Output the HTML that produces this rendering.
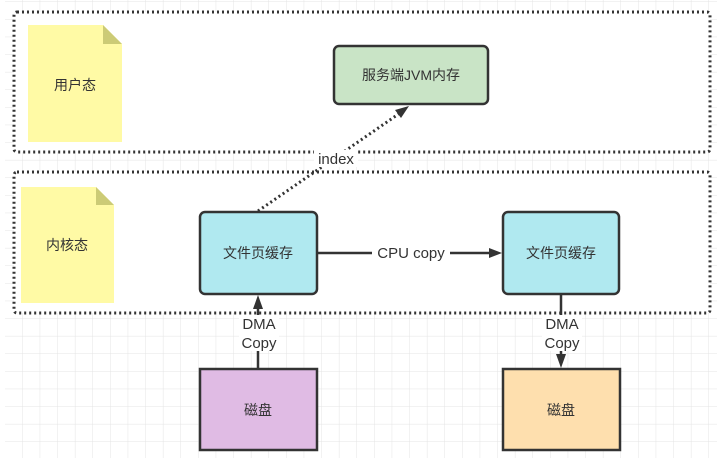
<!DOCTYPE html>
<html><head><meta charset="utf-8"><style>
body{margin:0;background:#fff}
svg text{font-family:"Liberation Sans","Noto Sans CJK SC",sans-serif;fill:#333}
</style></head><body>
<svg width="719" height="467" xmlns="http://www.w3.org/2000/svg">
<defs>
<pattern id="g" width="17.6" height="17.6" patternUnits="userSpaceOnUse" x="5" y="2">
<path d="M17.6 0V17.6M0 17.6H17.6" stroke="#e4e4e4" stroke-width="1" fill="none"/>
</pattern>
</defs>
<rect x="5" y="0" width="712" height="458" fill="url(#g)"/>
<rect x="14" y="12" width="696" height="140" fill="#fff" stroke="#333" stroke-width="3" stroke-dasharray="2 3" rx="3"/>
<rect x="14" y="172" width="696" height="141" fill="#fff" stroke="#333" stroke-width="3" stroke-dasharray="2 3" rx="3"/>
<path d="M28 25H103L122 44V142H28Z" fill="#fffaa5"/>
<path d="M103 25L122 44H103Z" fill="#cccb76"/>
<text x="75" y="90" font-size="14" text-anchor="middle">用户态</text>
<path d="M21 187H96L114 205V303H21Z" fill="#fffaa5"/>
<path d="M96 187L114 205H96Z" fill="#cccb76"/>
<text x="67" y="250" font-size="14" text-anchor="middle">内核态</text>
<rect x="334" y="46" width="154" height="58" rx="5" fill="#c9e4c6" stroke="#333" stroke-width="2.5"/>
<text x="411" y="80" font-size="14" text-anchor="middle">服务端JVM内存</text>
<rect x="200" y="212" width="117" height="82" rx="5" fill="#b0e9f0" stroke="#333" stroke-width="2.5"/>
<text x="258" y="258" font-size="14" text-anchor="middle">文件页缓存</text>
<rect x="503" y="212" width="116" height="82" rx="5" fill="#b0e9f0" stroke="#333" stroke-width="2.5"/>
<text x="561" y="258" font-size="14" text-anchor="middle">文件页缓存</text>
<rect x="200" y="369" width="117" height="81" fill="#e0bbe4" stroke="#333" stroke-width="2.5"/>
<text x="258" y="415" font-size="14" text-anchor="middle">磁盘</text>
<rect x="503" y="369" width="117" height="81" fill="#fedfae" stroke="#333" stroke-width="2.5"/>
<text x="561" y="415" font-size="14" text-anchor="middle">磁盘</text>
<path d="M258 211L400 113" stroke="#333" stroke-width="3" stroke-dasharray="2 3" fill="none"/>
<path d="M409 106L395 110L401 118Z" fill="#333"/>
<rect x="314" y="150" width="44" height="17" fill="#fff"/>
<text x="336" y="164" font-size="15" text-anchor="middle">index</text>
<path d="M318 253H490" stroke="#333" stroke-width="2.5"/>
<path d="M502 253L489 248V258Z" fill="#333"/>
<rect x="372" y="244" width="78" height="18" fill="#fff"/>
<text x="411" y="258" font-size="15" text-anchor="middle">CPU copy</text>
<path d="M258 368V306" stroke="#333" stroke-width="2.5"/>
<path d="M258 295L253 309H263Z" fill="#333"/>
<rect x="239" y="315" width="40" height="36" fill="#fff"/>
<text x="259" y="329" font-size="15" text-anchor="middle">DMA</text>
<text x="259" y="348" font-size="15" text-anchor="middle">Copy</text>
<path d="M561 295V358" stroke="#333" stroke-width="2.5"/>
<path d="M561 368L556 354H566Z" fill="#333"/>
<rect x="542" y="315" width="40" height="36" fill="#fff"/>
<text x="562" y="329" font-size="15" text-anchor="middle">DMA</text>
<text x="562" y="348" font-size="15" text-anchor="middle">Copy</text>
</svg>
</body></html>
